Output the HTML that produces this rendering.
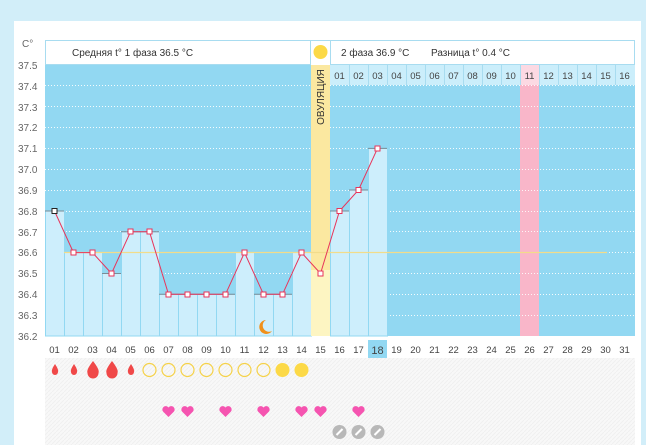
<!DOCTYPE html>
<html><head><meta charset="utf-8"><style>
html,body{margin:0;padding:0;background:#d2eef9;width:646px;height:445px;overflow:hidden}
svg{display:block;font-family:"Liberation Sans",sans-serif}
</style></head><body>
<svg width="646" height="445" viewBox="0 0 646 445" xmlns="http://www.w3.org/2000/svg">
<defs>
<pattern id="hatch" width="4" height="4" patternUnits="userSpaceOnUse"><rect width="4" height="4" fill="#f8f8f8"/><path d="M0 4L4 0" stroke="#f0f0f0" stroke-width="1"/></pattern>
</defs>
<rect x="14" y="21" width="627" height="424" fill="#fff"/>
<rect x="4" y="300" width="10" height="145" fill="#d2eef9"/>
<!-- header -->
<rect x="45.5" y="40.5" width="589" height="24" fill="#fff" stroke="#a8dcf0"/>
<line x1="310.5" y1="40" x2="310.5" y2="65" stroke="#a8dcf0"/>
<line x1="330.5" y1="40" x2="330.5" y2="65" stroke="#a8dcf0"/>
<rect x="311" y="41" width="19" height="24" fill="#fff"/>
<circle cx="320.5" cy="52" r="7" fill="#fcd947"/>
<text x="72" y="56" font-size="10" fill="#333">Средняя t° 1 фаза 36.5 °C</text>
<text x="341" y="56" font-size="10" fill="#333">2 фаза 36.9 °C</text>
<text x="431" y="56" font-size="10" fill="#333">Разница t° 0.4 °C</text>
<!-- axis labels -->
<g font-size="10" fill="#666">
<text x="22" y="47">C°</text>
<text x="18" y="69">37.5</text><text x="18" y="90">37.4</text><text x="18" y="111">37.3</text><text x="18" y="131">37.2</text><text x="18" y="152">37.1</text><text x="18" y="173">37.0</text><text x="18" y="194">36.9</text><text x="18" y="215">36.8</text><text x="18" y="236">36.7</text><text x="18" y="256">36.6</text><text x="18" y="277">36.5</text><text x="18" y="298">36.4</text><text x="18" y="319">36.3</text><text x="18" y="340">36.2</text>
</g>
<!-- plot bg -->
<rect x="45" y="65" width="590" height="271" fill="#92d8f2"/>
<rect x="330" y="65" width="305" height="20" fill="#cbeefb"/>
<rect x="520" y="65" width="19" height="20" fill="#fcd9e3"/>
<rect x="520" y="85" width="19" height="251" fill="#f9b6c9"/>
<g stroke="#a8dcf0" stroke-width="1">
<path d="M349.5 65V85M368.5 65V85M387.5 65V85M406.5 65V85M425.5 65V85M444.5 65V85M463.5 65V85M482.5 65V85M501.5 65V85M520.5 65V85M539.5 65V85M558.5 65V85M577.5 65V85M596.5 65V85M615.5 65V85"/>
</g>
<!-- grid -->
<g stroke="#fff" stroke-width="1" stroke-dasharray="1,2" opacity="0.9">
<path d="M45 85.5H635M45 106.5H635M45 127.5H635M45 148.5H635M45 169.5H635M45 190.5H635M45 211.5H635M45 231.5H635M45 252.5H635M45 273.5H635M45 294.5H635M45 315.5H635"/>
</g>
<!-- bars -->
<g fill="#cdeefc" stroke="#92d8f2" stroke-width="1">
<rect x="45.5" y="211" width="19" height="125"/>
<rect x="64.5" y="252.5" width="19" height="83.5"/>
<rect x="83.5" y="252.5" width="19" height="83.5"/>
<rect x="102.5" y="273.5" width="19" height="62.5"/>
<rect x="121.5" y="231.8" width="19" height="104.2"/>
<rect x="140.5" y="231.8" width="19" height="104.2"/>
<rect x="159.5" y="294.3" width="19" height="41.7"/>
<rect x="178.5" y="294.3" width="19" height="41.7"/>
<rect x="197.5" y="294.3" width="19" height="41.7"/>
<rect x="216.5" y="294.3" width="19" height="41.7"/>
<rect x="235.5" y="252.5" width="19" height="83.5"/>
<rect x="254.5" y="294.3" width="19" height="41.7"/>
<rect x="273.5" y="294.3" width="19" height="41.7"/>
<rect x="292.5" y="252.5" width="19" height="83.5"/>
<rect x="330.5" y="211" width="19" height="125"/>
<rect x="349.5" y="190" width="19" height="146"/>
<rect x="368.5" y="148.4" width="19" height="187.6"/>
</g>
<g stroke="#7a8c96" stroke-width="1">
<path d="M45 211H64M64 252.5H102M102 273.5H121M121 231.8H159M159 294.3H235M235 252.5H254M254 294.3H292M292 252.5H311M330 211H349M349 190H368M368 148.4H387"/>
</g>
<!-- ovulation column -->
<rect x="311" y="65" width="19" height="271" fill="#fdf5c2"/>
<rect x="311" y="65" width="19" height="205" fill="#fbe8a0"/>
<text transform="translate(324,97) rotate(-90)" text-anchor="middle" font-size="10" fill="#333">ОВУЛЯЦИЯ</text>
<!-- day numbers top -->
<g font-size="9.5" fill="#444" text-anchor="middle">
<text x="339.5" y="79">01</text><text x="358.5" y="79">02</text><text x="377.5" y="79">03</text><text x="396.5" y="79">04</text><text x="415.5" y="79">05</text><text x="434.5" y="79">06</text><text x="453.5" y="79">07</text><text x="472.5" y="79">08</text><text x="491.5" y="79">09</text><text x="510.5" y="79">10</text><text x="529.5" y="79">11</text><text x="548.5" y="79">12</text><text x="567.5" y="79">13</text><text x="586.5" y="79">14</text><text x="605.5" y="79">15</text><text x="624.5" y="79">16</text>
</g>
<!-- coverline -->
<line x1="64" y1="252.5" x2="607" y2="252.5" stroke="#f2dc8a" stroke-width="1.2"/>
<!-- temp line -->
<polyline fill="none" stroke="#e8345a" stroke-width="1" points="54.5,211 73.5,252.6 92.5,252.6 111.5,273.5 130.5,231.8 149.5,231.8 168.5,294.3 187.5,294.3 206.5,294.3 225.5,294.3 244.5,252.6 263.5,294.3 282.5,294.3 301.5,252.6 320.5,273.5 339.5,211 358.5,190 377.5,148.4"/>
<g fill="#fff" stroke="#e8345a" stroke-width="1">
<rect x="71" y="250" width="5" height="5"/><rect x="90" y="250" width="5" height="5"/><rect x="109" y="271" width="5" height="5"/><rect x="128" y="229" width="5" height="5"/><rect x="147" y="229" width="5" height="5"/><rect x="166" y="292" width="5" height="5"/><rect x="185" y="292" width="5" height="5"/><rect x="204" y="292" width="5" height="5"/><rect x="223" y="292" width="5" height="5"/><rect x="242" y="250" width="5" height="5"/><rect x="261" y="292" width="5" height="5"/><rect x="280" y="292" width="5" height="5"/><rect x="299" y="250" width="5" height="5"/><rect x="318" y="271" width="5" height="5"/><rect x="337" y="208.5" width="5" height="5"/><rect x="356" y="187.5" width="5" height="5"/><rect x="375" y="146" width="5" height="5"/>
</g>
<rect x="52" y="208.5" width="5" height="5" fill="#fff" stroke="#222"/>
<!-- moon -->
<path d="M266 320 A7 7 0 1 0 272 331 A5.5 5.5 0 0 1 266 320Z" fill="#f0901a"/>
<!-- bottom rows -->
<rect x="45" y="358" width="590" height="87" fill="url(#hatch)"/>
<rect x="368" y="340" width="19" height="18" fill="#92d8f2"/>
<g font-size="9.5" fill="#444" text-anchor="middle">
<text x="54.5" y="353">01</text><text x="73.5" y="353">02</text><text x="92.5" y="353">03</text><text x="111.5" y="353">04</text><text x="130.5" y="353">05</text><text x="149.5" y="353">06</text><text x="168.5" y="353">07</text><text x="187.5" y="353">08</text><text x="206.5" y="353">09</text><text x="225.5" y="353">10</text><text x="244.5" y="353">11</text><text x="263.5" y="353">12</text><text x="282.5" y="353">13</text><text x="301.5" y="353">14</text><text x="320.5" y="353">15</text><text x="339.5" y="353">16</text><text x="358.5" y="353">17</text><text x="377.5" y="354" font-size="11">18</text><text x="396.5" y="353">19</text><text x="415.5" y="353">20</text><text x="434.5" y="353">21</text><text x="453.5" y="353">22</text><text x="472.5" y="353">23</text><text x="491.5" y="353">24</text><text x="510.5" y="353">25</text><text x="529.5" y="353">26</text><text x="548.5" y="353">27</text><text x="567.5" y="353">28</text><text x="586.5" y="353">29</text><text x="605.5" y="353">30</text><text x="624.5" y="353">31</text>
</g>
<!-- drops -->
<g fill="#f04848">
<path d="M55 364 Q51 370 52 372 A3 3 0 0 0 58 372 Q59 370 55 364Z"/>
<path d="M74 364 Q70 370 71 372 A3 3 0 0 0 77 372 Q78 370 74 364Z"/>
<path d="M93 361 Q86 370 87.5 373 A5.5 5.5 0 0 0 98.5 373 Q100 370 93 361Z"/>
<path d="M112 361 Q105 370 106.5 373 A5.5 5.5 0 0 0 117.5 373 Q119 370 112 361Z"/>
<path d="M131 364 Q127 370 128 372 A3 3 0 0 0 134 372 Q135 370 131 364Z"/>
</g>
<g fill="none" stroke="#f5d24a" stroke-width="1.2">
<circle cx="149.5" cy="370" r="6.5"/><circle cx="168.5" cy="370" r="6.5"/><circle cx="187.5" cy="370" r="6.5"/><circle cx="206.5" cy="370" r="6.5"/><circle cx="225.5" cy="370" r="6.5"/><circle cx="244.5" cy="370" r="6.5"/><circle cx="263.5" cy="370" r="6.5"/>
</g>
<circle cx="282.5" cy="370" r="7" fill="#fcd947"/><circle cx="301.5" cy="370" r="7" fill="#fcd947"/>
<!-- hearts -->
<g fill="#f554b0">
<path d="M168.5 417 L163 411.5 A3 3 0 0 1 168.5 407.5 A3 3 0 0 1 174 411.5Z"/>
<path d="M187.5 417 L182 411.5 A3 3 0 0 1 187.5 407.5 A3 3 0 0 1 193 411.5Z"/>
<path d="M225.5 417 L220 411.5 A3 3 0 0 1 225.5 407.5 A3 3 0 0 1 231 411.5Z"/>
<path d="M263.5 417 L258 411.5 A3 3 0 0 1 263.5 407.5 A3 3 0 0 1 269 411.5Z"/>
<path d="M301.5 417 L296 411.5 A3 3 0 0 1 301.5 407.5 A3 3 0 0 1 307 411.5Z"/>
<path d="M320.5 417 L315 411.5 A3 3 0 0 1 320.5 407.5 A3 3 0 0 1 326 411.5Z"/>
<path d="M358.5 417 L353 411.5 A3 3 0 0 1 358.5 407.5 A3 3 0 0 1 364 411.5Z"/>
</g>
<!-- pills -->
<g>
<circle cx="339.5" cy="432" r="7" fill="#b8b8b8"/><path d="M336.5 435L342.5 429" stroke="#fff" stroke-width="2"/>
<circle cx="358.5" cy="432" r="7" fill="#b8b8b8"/><path d="M355.5 435L361.5 429" stroke="#fff" stroke-width="2"/>
<circle cx="377.5" cy="432" r="7" fill="#b8b8b8"/><path d="M374.5 435L380.5 429" stroke="#fff" stroke-width="2"/>
</g>
<rect x="641" y="0" width="5" height="445" fill="#d2eef9"/>
</svg>
</body></html>
